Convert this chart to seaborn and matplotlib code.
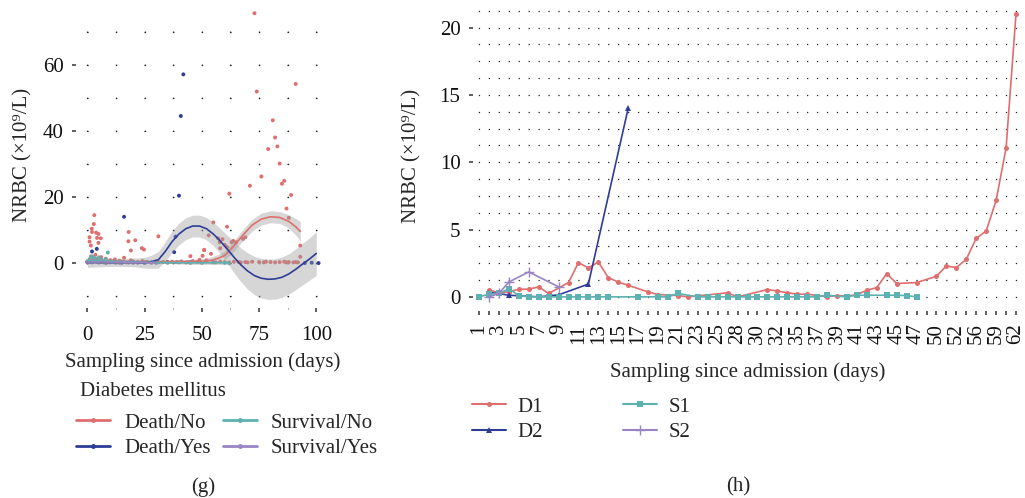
import numpy as np
import pandas as pd
import matplotlib
matplotlib.use("Agg")
import matplotlib.pyplot as plt
import seaborn as sns
from matplotlib.lines import Line2D

# ---------------- data: panel (g) ----------------
dn_x = [73, 74, 91, 81, 82, 83, 79, 84, 76, 71, 86, 85, 89, 87, 62, 88, 93, 55, 61, 53, 69,
        3, 2.8, 1.9, 2, 0.9, 3.8, 4.8, 4.2, 5.8, 4.8, 0.9, 1.5, 18, 17.9, 20.9, 19, 23.8, 24.7,
        31, 51, 50.3, 57.1, 57.8, 63.7, 59, 58, 60, 61, 63, 65, 68, 45, 54, 51, 93,
        0, 1, 1.5, 2, 2.5, 3, 3.5, 4, 5, 6, 7, 8, 9, 10, 11, 12, 13, 14, 15, 16, 17, 19, 20,
        22, 24, 26, 28, 30, 33, 35, 37, 39, 41, 43, 44, 46, 48, 49, 52, 55, 56, 58, 60, 62,
        64, 66, 67, 69, 70, 72, 75, 77, 78, 80, 82, 84, 86, 87, 88, 90, 91, 92]
dn_y = [75.6, 51.9, 54.2, 43.2, 38.0, 35.3, 34.5, 30.1, 26.2, 23.4, 24.9, 24.0, 20.6, 16.5,
        21.0, 13.7, 5.3, 12.3, 11.0, 8.4, 7.8,
        14.5, 11.8, 10.4, 9.4, 7.8, 9.2, 8.8, 7.6, 7.5, 6.1, 6.5, 5.3, 9.4, 6.6, 6.9, 3.8, 4.5,
        4.1, 8.1, 3.9, 2.2, 7.5, 6.3, 6.7, 7.2, 4.5, 5.5, 4.8, 6.3, 6.3, 7.3, 2.1, 2.8, 4.0, 1.9,
        0.5, 1.0, 2.0, 0.3, 1.5, 0.8, 2.5, 1.2, 0.6, 1.8, 0.4, 1.3, 0.2, 0.9, 0.5, 1.1, 0.3,
        0.7, 0.4, 1.6, 0.2, 0.8, 0.5, 0.3, 0.6, 0.4, 0.2, 0.5, 0.3, 0.2, 0.4, 0.3, 0.5, 0.2,
        0.3, 0.6, 0.4, 1.0, 0.8, 0.3, 0.2, 0.4, 0.3, 0.2, 0.4, 0.3, 0.2, 0.3, 0.2, 0.4, 0.3,
        0.2, 0.4, 0.3, 0.2, 0.3, 0.4, 0.2, 0.3, 0.2, 0.3, 0.2]
dy_x = [41.9, 40.8, 40.0, 16.0, 37.9, 2.0, 4.1, 38.5, 0, 1, 2, 3, 5, 6, 8, 10, 12, 15, 20,
        25, 30, 35, 45, 95, 98, 101]
dy_y = [57.1, 44.5, 20.4, 14.0, 3.3, 3.5, 4.3, 8.0, 0.2, 0.5, 0.3, 0.6, 0.2, 0.4, 0.1, 0.3,
        0.2, 0.1, 0.2, 0.1, 0.2, 0.3, 0.2, 0.0, 0.1, 0.0]
sn_x = [8.9, 0, 1, 2, 3, 4, 5, 6, 7, 8, 9, 10, 11, 12, 14, 16, 18, 20, 22, 25, 28, 31, 35,
        40, 45, 50, 55, 60, 62]
sn_y = [3.2, 0.5, 1.2, 2.0, 1.5, 0.8, 1.7, 1.0, 0.6, 1.2, 0.4, 0.5, 0.3, 0.4, 0.2, 0.3, 0.2,
        0.3, 0.1, 0.2, 0.1, 0.2, 0.1, 0.2, 0.1, 0.1, 0.2, 0.1, 0.0]
sy_x = [0, 1, 2, 3, 4, 5, 6, 7, 8, 10, 12, 14, 16, 18, 20, 22, 25, 28, 30]
sy_y = [0.3, 0.5, 0.2, 0.6, 0.4, 0.3, 0.5, 0.2, 0.3, 0.2, 0.4, 0.1, 0.3, 0.2, 0.1, 0.2, 0.1,
        0.2, 0.1]

# smoothed fits (fit, half width of band)
fit_dn_x = [0, 10, 20, 30, 40, 45, 50, 54, 57, 60, 64, 68, 72, 76, 80, 84, 88, 91, 93]
fit_dn_y = [0.4, 0.4, 0.4, 0.4, 0.4, 0.4, 0.5, 0.8, 1.4, 2.3, 5.2, 8.5, 11.5, 13.3, 14.0,
            13.8, 12.6, 11.0, 9.6]
fit_dn_w = [0.6, 0.5, 0.5, 0.5, 0.6, 0.7, 0.8, 1.0, 1.2, 1.4, 1.6, 1.7, 1.8, 1.8, 1.8, 1.8,
            2.0, 2.5, 3.0]
fit_dy_x = [0, 10, 20, 25, 28, 31, 34, 37, 40, 43, 46, 49, 52, 55, 58, 61, 64, 67, 70, 73,
            76, 79, 82, 85, 88, 91, 94, 97, 100]
fit_dy_y = [0.2, 0.2, 0.2, 0.1, 0.4, 1.0, 3.5, 6.5, 8.8, 10.4, 11.2, 11.2, 10.4, 8.8, 6.7,
            4.3, 1.8, -0.5, -2.4, -3.8, -4.6, -4.9, -4.8, -4.3, -3.3, -1.9, -0.3, 1.2, 2.9]
fit_dy_w = [1.5, 1.2, 1.3, 1.6, 2.0, 2.5, 3.0, 3.2, 3.3, 3.3, 3.3, 3.3, 3.4, 3.5, 3.8, 4.2,
            4.7, 5.1, 5.5, 5.8, 6.0, 6.1, 6.1, 6.1, 6.1, 6.2, 6.3, 6.4, 6.6]
fit_sn_x = [0, 10, 20, 30, 40, 50, 62]
fit_sn_y = [0.8, 0.5, 0.3, 0.2, 0.1, 0.1, 0.1]
fit_sn_w = [0.6, 0.4, 0.3, 0.3, 0.3, 0.4, 0.6]
fit_sy_x = [0, 10, 20, 30]
fit_sy_y = [0.3, 0.3, 0.2, 0.1]
fit_sy_w = [0.3, 0.2, 0.2, 0.3]

# ---------------- data: panel (h) ----------------
days = [1, 2, 3, 4, 5, 6, 7, 8, 9, 10, 11, 12, 13, 14, 15, 16, 17, 18, 19, 20, 21, 22, 23,
        24, 25, 27, 28, 29, 30, 31, 32, 34, 35, 36, 37, 38, 39, 40, 41, 42, 43, 44, 45, 46,
        47, 49, 50, 51, 52, 54, 56, 58, 59, 61, 62]
d1_days = [2, 3, 4, 5, 6, 7, 8, 10, 11, 12, 13, 14, 15, 16, 18, 19, 21, 22, 27, 28, 31, 32,
           34, 35, 36, 38, 39, 40, 41, 42, 43, 44, 45, 47, 50, 51, 52, 54, 56, 58, 59, 61, 62]
d1_vals = [0.5, 0.32, 0.37, 0.57, 0.57, 0.74, 0.25, 1.06, 2.54, 2.15, 2.59, 1.43, 1.1, 0.86,
           0.37, 0.17, 0.1, 0.0, 0.3, 0.0, 0.54, 0.44, 0.3, 0.2, 0.2, 0.0, 0.1, 0.05, 0.17,
           0.49, 0.69, 1.73, 0.99, 1.06, 1.53, 2.3, 2.17, 2.79, 4.35, 4.89, 7.16, 11.04, 21.0]
d2_days = [2, 3, 4, 7, 9, 12, 16]
d2_vals = [0.32, 0.25, 0.12, 0.0, 0.15, 0.95, 14.0]
s1_days = [1, 2, 3, 4, 5, 6, 7, 8, 9, 10, 11, 12, 13, 14, 17, 19, 20, 21, 23, 24, 25, 27, 28,
           29, 30, 31, 32, 34, 35, 36, 37, 38, 40, 41, 42, 44, 45, 46, 47]
s1_vals = [0.0, 0.2, 0.25, 0.6, 0.1, 0.0, 0.0, 0.0, 0.0, 0.0, 0.0, 0.0, 0.0, 0.0, 0.0, 0.0,
           0.0, 0.25, 0.0, 0.0, 0.0, 0.0, 0.0, 0.0, 0.0, 0.0, 0.0, 0.0, 0.0, 0.0, 0.0, 0.12,
           0.0, 0.12, 0.12, 0.12, 0.12, 0.1, 0.0]
s2_days = [2, 3, 4, 6, 9]
s2_vals = [0.0, 0.25, 1.1, 1.85, 0.75]

RED, BLUE, TEAL, PURPLE = "#DF6E6E", "#2E3D98", "#5CB1B1", "#9A84C4"

sns.set_theme(style="white")
plt.rcParams["font.family"] = ["Liberation Serif", "DejaVu Serif"]
plt.rcParams.update({"font.size": 15, "axes.labelsize": 15, "xtick.labelsize": 15,
                     "ytick.labelsize": 15, "legend.fontsize": 15,
                     "lines.scale_dashes": False})

fig = plt.figure(figsize=(10.25, 4.98), dpi=100)
W, H = 1025, 498
ncat = len(days)
cat_px = 537 / (ncat - 1)
axL = fig.add_axes([76 / W, 1 - 308 / H, 254 / W, 306 / H])
axR = fig.add_axes([(479 - 0.6 * cat_px) / W, 1 - 311 / H, (ncat + 0.2) * cat_px / W, 311 / H])


def dot_pattern(period_px, first_px, on=0.9):
    # dotted line whose dots fall on grid intersections
    per = period_px * 72 / 100
    first = first_px * 72 / 100
    return ((per - first + on / 2) % per, (on, per - on))


# ---------------- panel (g) ----------------
xl, yl = (-5, 106), (-13.6, 79)
axL.set_xlim(*xl)
axL.set_ylim(*yl)
pxx = 254 / (xl[1] - xl[0])
pxy = 306 / (yl[1] - yl[0])

groups = [("Death/No", dn_x, dn_y, RED), ("Death/Yes", dy_x, dy_y, BLUE),
          ("Survival/No", sn_x, sn_y, TEAL), ("Survival/Yes", sy_x, sy_y, PURPLE)]
scat = pd.concat([pd.DataFrame({"day": x, "nrbc": y, "grp": g}) for g, x, y, _ in groups])
sns.scatterplot(data=scat, x="day", y="nrbc", hue="grp",
                palette={g: c for g, _, _, c in groups}, s=8, linewidth=0,
                legend=False, ax=axL, zorder=3)

fits = [(fit_dn_x, fit_dn_y, fit_dn_w, RED), (fit_dy_x, fit_dy_y, fit_dy_w, BLUE),
        (fit_sn_x, fit_sn_y, fit_sn_w, TEAL), (fit_sy_x, fit_sy_y, fit_sy_w, PURPLE)]
for fx, fy, fw, c in fits:
    fx, fy, fw = np.array(fx), np.array(fy), np.array(fw)
    axL.fill_between(fx, fy - fw, fy + fw, color="#999999", alpha=0.4, lw=0, zorder=4)
for fx, fy, fw, c in fits:
    sns.lineplot(x=fx, y=fy, color=c, lw=1.2, ax=axL, zorder=5)

axL.set_xticks([0, 25, 50, 75, 100])
axL.set_xticks([12.5, 37.5, 62.5, 87.5], minor=True)
axL.set_yticks([0, 20, 40, 60])
axL.set_yticks([-10, 10, 30, 50, 70], minor=True)
axL.yaxis.grid(True, which="both", color="#222222", lw=0.9,
               linestyle=dot_pattern(12.5 * pxx, 5 * pxx))
axL.xaxis.grid(True, which="both", color="#222222", lw=0.9,
               linestyle=dot_pattern(10 * pxy, (-10 - yl[0]) * pxy))
axL.set_xlabel("Sampling since admission (days)", labelpad=5)
axL.set_ylabel("NRBC (\u00d710\u2079/L)", labelpad=7)

# ---------------- panel (h) ----------------
pos = {d: i for i, d in enumerate(days)}
series = [("D1", d1_days, d1_vals, RED, "o", 3.6),
          ("D2", d2_days, d2_vals, BLUE, "^", 4.0),
          ("S1", s1_days, s1_vals, TEAL, "s", 4.4),
          ("S2", s2_days, s2_vals, PURPLE, "+", 6.5)]
for name, dd, vv, c, m, ms in series:
    sns.lineplot(x=[pos[d] for d in dd], y=vv, color=c, marker=m, markersize=ms,
                 markeredgecolor=c, markeredgewidth=1.0 if m == "+" else 0, lw=1.2,
                 ax=axR, zorder=5)

axR.set_xlim(-0.6, ncat - 0.4)
axR.set_ylim(-1.05, 22.05)
axR.set_xticks(range(ncat))
axR.set_xticklabels([str(d) if i % 2 == 0 else "" for i, d in enumerate(days)], rotation=90)
axR.set_yticks([0, 5, 10, 15, 20])
axR.set_yticks(np.arange(1.25, 21.5, 1.25), minor=True)
axR.yaxis.grid(True, which="both", color="#222222", lw=0.9,
               linestyle=dot_pattern(cat_px, 0.6 * cat_px))
axR.set_xlabel("Sampling since admission (days)", labelpad=13)
axR.set_ylabel("NRBC (\u00d710\u2079/L)", labelpad=13)

for ax in (axL, axR):
    sns.despine(ax=ax, left=True, bottom=True)
    ax.set_axisbelow(True)
    ax.tick_params(which="major", length=3, width=1.1, color="#333333", pad=6,
                   labelcolor="#111111", left=True, bottom=True)
    ax.tick_params(which="minor", length=1, width=0.6, color="#555555", left=False,
                   bottom=(ax is axL))
axL.tick_params(axis="x", which="major", pad=10)
axR.tick_params(axis="x", which="major", pad=6)

# ---------------- legends ----------------
fig.text(80 / W, 1 - 391 / H, "Diabetes mellitus", ha="left", va="center", fontsize=15)
hL = [Line2D([], [], color=c, lw=2, marker="o", markersize=2.5) for _, _, _, c in groups]
fig.legend(hL, [g for g, _, _, _ in groups], loc="upper left",
           bbox_to_anchor=(76 / W, 1 - 413 / H), ncol=2, frameon=False, borderpad=0,
           borderaxespad=0, handlelength=1.65, handletextpad=0.65, columnspacing=0.6,
           labelspacing=0.3)
hR = [Line2D([], [], color=c, lw=1.5, marker=m, markersize=ms, markeredgecolor=c,
             markeredgewidth=1.0 if m == "+" else 0) for _, _, _, c, m, ms in series]
fig.legend(hR, [s[0] for s in series], loc="upper left",
           bbox_to_anchor=(472 / W, 1 - 397 / H), ncol=2, frameon=False, borderpad=0,
           borderaxespad=0, handlelength=1.65, handletextpad=0.55, columnspacing=3.8,
           labelspacing=0.3)

fig.text(203 / W, 1 - 487 / H, "(g)", ha="center", va="center", fontsize=15)
fig.text(738 / W, 1 - 487 / H, "(h)", ha="center", va="center", fontsize=15)

fig.savefig("out.png", dpi=100)
